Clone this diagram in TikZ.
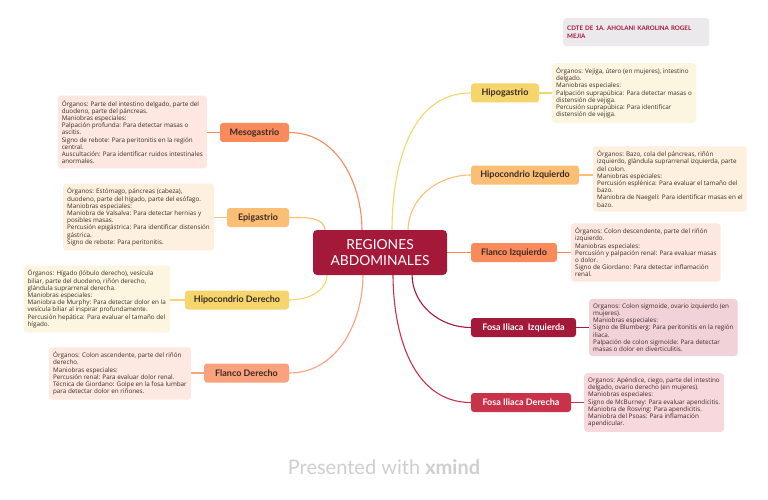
\documentclass[tikz,border=0pt]{standalone}
\usepackage{fontspec}
\setmainfont{Lato}
\newfontfamily\detfont{Open Sans}
\definecolor{cyel}{HTML}{F4D66C}
\definecolor{lyel}{HTML}{FCF6E1}
\definecolor{corl}{HTML}{FBBE75}
\definecolor{lorl}{HTML}{FDF0DF}
\definecolor{corg}{HTML}{F98A5C}
\definecolor{lorg}{HTML}{FDE7E0}
\definecolor{csal}{HTML}{FAA27D}
\definecolor{lsal}{HTML}{FDE9E2}
\definecolor{ccri}{HTML}{A4183A}
\definecolor{lcri}{HTML}{F2D2D9}
\definecolor{cred}{HTML}{C9334A}
\definecolor{lred}{HTML}{F7D8DC}
\definecolor{detc}{HTML}{3A2A22}
\definecolor{cgray}{HTML}{ECE9EC}
\definecolor{foot}{HTML}{CFCFCF}
\begin{document}
\begin{tikzpicture}[x=1pt,y=-1pt,
  sub/.style={rounded corners=3pt, minimum height=19pt, inner sep=0pt, font=\fontsize{9}{10}\selectfont\bfseries, text=detc},
  det/.style={rounded corners=3pt, inner xsep=4pt, inner ysep=4.5pt, align=left, font=\detfont\fontsize{6.3}{7.2}\selectfont, text=detc},
  con/.style={line width=1.1pt}]
\useasboundingbox (0,0) rectangle (768,500);
\fill[white] (0,0) rectangle (768,500);

% author tag
\node[fill=cgray, rounded corners=3pt, anchor=north west, minimum width=146pt, minimum height=28pt, inner sep=4pt, align=left, text width=138pt, font=\fontsize{6.2}{7.2}\selectfont\bfseries, text=ccri] (tag) at (563,18) {CDTE DE 1A. AHOLANI KAROLINA ROGEL\\MEJIA};

% anchor points on central topic
\coordinate (cE) at (447,252.5);
\coordinate (tA) at (392,231);
\coordinate (tB) at (408,231);
\coordinate (tC) at (362,231);
\coordinate (tD) at (325,231);
\coordinate (bA) at (393,274);
\coordinate (bB) at (412,274);
\coordinate (bC) at (363,274);
\coordinate (bD) at (327,274);

% main topics right
\node[sub, fill=cyel, minimum width=68pt] (hipo) at (505,93) {Hipogastrio};
\node[sub, fill=corl, minimum width=108pt] (hiz) at (525,175) {Hipocondrio Izquierdo};
\node[sub, fill=corg, minimum width=86pt] (fiz) at (514,252.5) {Flanco Izquierdo};
\node[sub, fill=ccri, text=white, minimum width=105pt] (fsi) at (523.5,327.5) {Fosa Iliaca\ \ Izquierda};
\node[sub, fill=cred, text=white, minimum width=100pt] (fsd) at (521,402.5) {Fosa Iliaca Derecha};

% main topics left
\node[sub, fill=corg, minimum width=69pt] (meso) at (254.5,132.5) {Mesogastrio};
\node[sub, fill=corl, minimum width=62pt] (epi) at (258,217.5) {Epigastrio};
\node[sub, fill=cyel, minimum width=104pt] (hde) at (237,300) {Hipocondrio Derecho};
\node[sub, fill=csal, minimum width=85pt] (fde) at (246.5,373) {Flanco Derecho};

% connectors from center
\draw[con, cyel] (tA) to[out=90,in=180] (hipo.west);
\draw[con, corl] (tB) to[out=90,in=180] (hiz.west);
\draw[con, corg] (cE) -- (fiz.west);
\draw[con, cred] (bA) to[out=-90,in=180] (fsd.west);
\draw[con, ccri] (bB) to[out=-90,in=180] (fsi.west);
\draw[con, corg] (tC) to[out=90,in=0] (meso.east);
\draw[con, corl] (tD) to[out=90,in=0] (epi.east);
\draw[con, csal] (bC) to[out=-90,in=0] (fde.east);
\draw[con, cyel] (bD) to[out=-90,in=0] (hde.east);

% central topic
\node[fill=ccri, rounded corners=4pt, minimum width=134pt, minimum height=45pt, inner sep=0pt, align=center, text=white, font=\fontsize{13.8}{16}\selectfont] (c) at (380,252.5) {REGIONES\\ABDOMINALES};

% detail boxes right
\node[det, fill=lyel, anchor=west] (hipod) at (552,93) {Órganos: Vejiga, útero (en mujeres), intestino\\delgado.\\Maniobras especiales:\\Palpación suprapúbica: Para detectar masas o\\distensión de vejiga.\\Percusión suprapúbica: Para identificar\\distensión de vejiga.};
\node[det, fill=lorl, anchor=west] (hizd) at (593,179) {Órganos: Bazo, cola del páncreas, riñón\\izquierdo, glándula suprarrenal izquierda, parte\\del colon.\\Maniobras especiales:\\Percusión esplénica: Para evaluar el tamaño del\\bazo.\\Maniobra de Naegeli: Para identificar masas en el\\bazo.};
\node[det, fill=lorg, anchor=west] (fizd) at (571,252.5) {Órganos: Colon descendente, parte del riñón\\izquierdo.\\Maniobras especiales:\\Percusión y palpación renal: Para evaluar masas\\o dolor.\\Signo de Giordano: Para detectar inflamación\\renal.};
\node[det, fill=lcri, anchor=west] (fsid) at (589,327.5) {Organos: Colon sigmoide, ovario izquierdo (en\\mujeres).\\Maniobras especiales:\\Signo de Blumberg: Para peritonitis en la región\\iliaca.\\Palpación de colon sigmoide: Para detectar\\masas o dolor en diverticulitis.};
\node[det, fill=lred, anchor=west] (fsdd) at (584,402.5) {Organos: Apéndice, ciego, parte del intestino\\delgado, ovario derecho (en mujeres).\\Maniobras especiales:\\Signo de McBurney: Para evaluar apendicitis.\\Maniobra de Rosving: Para apendicitis.\\Maniobra del Psoas: Para inflamación\\apendicular.};

% detail boxes left
\node[det, fill=lorg, anchor=east] (mesod) at (207,132) {Órganos: Parte del intestino delgado, parte del\\duodeno, parte del páncreas.\\Maniobras especiales:\\Palpación profunda: Para detectar masas o\\ascitis.\\Signo de rebote: Para peritonitis en la región\\central.\\Auscultación: Para identificar ruidos intestinales\\anormales.};
\node[det, fill=lorl, anchor=east] (epid) at (214,217) {Órganos: Estómago, páncreas (cabeza),\\duodeno, parte del hígado, parte del esófago.\\Maniobras especiales:\\Maniobra de Valsalva: Para detectar hernias y\\posibles masas.\\Percusión epigástrica: Para identificar distensión\\gástrica.\\Signo de rebote: Para peritonitis.};
\node[det, fill=lyel, anchor=east] (hded) at (170,299) {Órganos: Hígado (lóbulo derecho), vesícula\\biliar, parte del duodeno, riñón derecho,\\glándula suprarrenal derecha.\\Maniobras especiales:\\Maniobra de Murphy: Para detectar dolor en la\\vesícula biliar al inspirar profundamente.\\Percusión hepática: Para evaluar el tamaño del\\hígado.};
\node[det, fill=lsal, anchor=east] (fded) at (191,373.5) {Órganos: Colon ascendente, parte del riñón\\derecho.\\Maniobras especiales:\\Percusión renal: Para evaluar dolor renal.\\Técnica de Giordano: Golpe en la fosa lumbar\\para detectar dolor en riñones.};

% short connectors topic -> details
\draw[con, cyel] (hipo.east) -- (hipod.west |- hipo.east);
\draw[con, corl] (hiz.east) -- (hizd.west |- hiz.east);
\draw[con, corg] (fiz.east) -- (fizd.west |- fiz.east);
\draw[con, ccri] (fsi.east) -- (fsid.west |- fsi.east);
\draw[con, cred] (fsd.east) -- (fsdd.west |- fsd.east);
\draw[con, corg] (meso.west) -- (mesod.east |- meso.west);
\draw[con, corl] (epi.west) -- (epid.east |- epi.west);
\draw[con, cyel] (hde.west) -- (hded.east |- hde.west);
\draw[con, csal] (fde.west) -- (fded.east |- fde.west);

% footer
\node[text=foot, font=\fontsize{20}{24}\selectfont, inner sep=0pt] (footer) at (384,467) {Presented with \textbf{xmind}};
\end{tikzpicture}
\end{document}
